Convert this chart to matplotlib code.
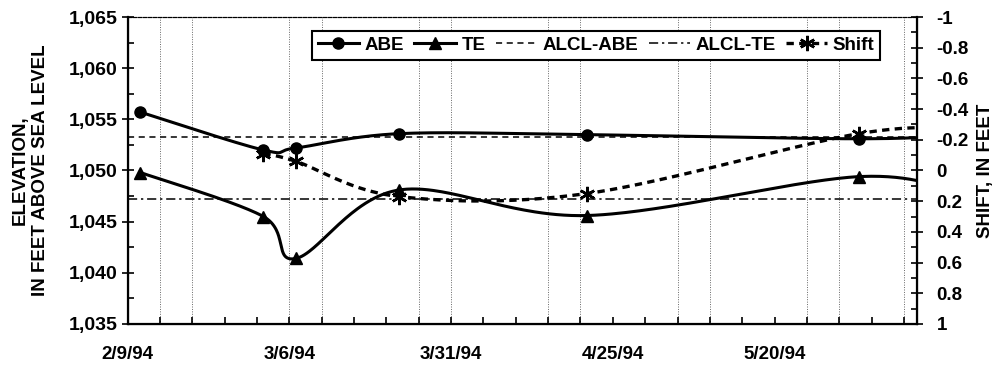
import numpy as np
import pandas as pd
import matplotlib
matplotlib.use('Agg')
import matplotlib.pyplot as plt
import matplotlib.dates as mdates
from matplotlib.lines import Line2D
from matplotlib.ticker import FuncFormatter, MultipleLocator

plt.rcParams['font.family'] = ['Liberation Sans', 'DejaVu Sans']
plt.rcParams['font.weight'] = 'bold'

# survey dates (the last one falls past the end of the axis)
dates = pd.to_datetime(['1994-02-11', '1994-03-02', '1994-03-07', '1994-03-23',
                        '1994-04-21', '1994-06-02', '1994-06-19'])
abe = [1055.7, 1052.0, 1052.2, 1053.6, 1053.5, 1053.1, 1053.5]
te = [1049.8, 1045.5, 1041.4, 1048.1, 1045.6, 1049.4, 1047.5]

# shift is only measured from the second survey on
shift_dates = dates[1:]
shift = [-0.11, -0.06, 0.17, 0.15, -0.24, -0.27]

alcl_abe = 1053.3
alcl_te = 1047.2

x_start = pd.Timestamp('1994-02-09')
x_end = pd.Timestamp('1994-06-11')
label_dates = pd.date_range('1994-02-09', periods=5, freq='25D')
grid_days = [5, 10, 25, 30, 45, 50, 65, 70, 85, 90, 105, 110, 120]


def smooth(x, y, n=60):
    # excel-style smoothed line: cubic bezier through every point
    p = np.column_stack([x, y]).astype(float)
    p = np.vstack([p[0], p, p[-1]])
    t = np.linspace(0, 1, n)[:, None]
    parts = []
    for i in range(len(p) - 3):
        a, d = p[i + 1], p[i + 2]
        b = a + (p[i + 2] - p[i]) / 6
        c = d - (p[i + 3] - p[i + 1]) / 6
        parts.append((1 - t) ** 3 * a + 3 * (1 - t) ** 2 * t * b
                     + 3 * (1 - t) * t ** 2 * c + t ** 3 * d)
    seg = np.vstack(parts)
    return seg[:, 0], seg[:, 1]


xd = mdates.date2num(dates)
xs = mdates.date2num(shift_dates)

fig = plt.figure(figsize=(9.94, 3.68), dpi=100)
ax = fig.add_axes([0.1283, 0.1196, 0.7942, 0.8342])
ax2 = ax.twinx()

for d in grid_days:
    ax.axvline(mdates.date2num(x_start + pd.Timedelta(days=d)), color='#666666',
               lw=0.7, ls=(0, (1, 1.5)), zorder=0)

ax.axhline(alcl_abe, color='black', lw=1.1, ls=(0, (4, 3)), zorder=1)
ax.axhline(alcl_te, color='black', lw=1.1, ls=(0, (6, 2.5, 1.5, 2.5)), zorder=1)

sx, sy = smooth(xd, abe)
ax.plot(sx, sy, color='black', lw=2.2, zorder=3)
ax.plot(xd, abe, 'o', color='black', ms=8, zorder=4)
sx, sy = smooth(xd, te)
ax.plot(sx, sy, color='black', lw=2.2, zorder=3)
ax.plot(xd, te, '^', color='black', ms=9, zorder=4)

sx, sy = smooth(xs, shift)
ax2.plot(sx, sy, color='black', lw=2.4, ls=(0, (2.2, 1.6)), zorder=3)
ax2.plot(xs, shift, ls='none', marker=(6, 2, 0), color='black', ms=11, mew=1.8, zorder=4)

ax.set_xlim(mdates.date2num(x_start), mdates.date2num(x_end))
ax.set_ylim(1035, 1065)
ax2.set_ylim(1, -1)

ax.set_xticks(mdates.date2num(label_dates))
ax.set_xticklabels([f'{d.month}/{d.day}/94' for d in label_dates])
ax.xaxis.set_minor_locator(MultipleLocator(5))
ax.yaxis.set_major_locator(MultipleLocator(5))
ax.yaxis.set_minor_locator(MultipleLocator(2.5))
ax.yaxis.set_major_formatter(FuncFormatter(lambda v, _: f'{v:,.0f}'))
ax2.yaxis.set_major_locator(MultipleLocator(0.2))
ax2.yaxis.set_minor_locator(MultipleLocator(0.1))
ax2.yaxis.set_major_formatter(FuncFormatter(lambda v, _: '0' if abs(v) < 1e-9 else '%g' % round(v, 1)))

ax.tick_params(axis='x', which='both', direction='in', length=5, width=1.2, labelsize=13.5, pad=16)
ax.tick_params(axis='y', which='major', direction='inout', length=8, width=1.2, labelsize=14, pad=3)
ax.tick_params(axis='y', which='minor', direction='in', length=4, width=1.2)
ax2.tick_params(axis='y', which='major', direction='inout', length=8, width=1.2, labelsize=13.5, pad=10)
ax2.tick_params(axis='y', which='minor', direction='in', length=4, width=1.2)

for sp in ('left', 'bottom'):
    ax.spines[sp].set_linewidth(1.6)
ax2.spines['right'].set_linewidth(1.6)
for a in (ax, ax2):
    a.spines['top'].set_linewidth(0.8)
    a.spines['top'].set_linestyle((0, (3, 1.5)))

ax.set_ylabel('ELEVATION,\nIN FEET ABOVE SEA LEVEL', fontsize=13.5, fontweight='bold',
              labelpad=14, linespacing=1.3)
ax2.set_ylabel('SHIFT, IN FEET', fontsize=13.5, fontweight='bold', labelpad=6)

handles = [
    Line2D([], [], color='black', lw=2.2, marker='o', ms=8),
    Line2D([], [], color='black', lw=2.2, marker='^', ms=9),
    Line2D([], [], color='black', lw=1.1, ls=(0, (4, 3))),
    Line2D([], [], color='black', lw=1.1, ls=(0, (6, 2.5, 1.5, 2.5))),
    Line2D([], [], color='black', lw=2.4, ls=(0, (2.2, 1.6)), marker=(6, 2, 0), ms=11, mew=1.8),
]
leg = fig.legend(handles, ['ABE', 'TE', 'ALCL-ABE', 'ALCL-TE', 'Shift'], ncol=5,
                 loc='upper left', bbox_to_anchor=(0.314, 0.915), frameon=True,
                 fancybox=False, edgecolor='black', framealpha=1, fontsize=13.5,
                 handlelength=2.2, handletextpad=0.3, columnspacing=0.55,
                 borderpad=0.3, borderaxespad=0)
leg.get_frame().set_linewidth(1.5)

fig.savefig('out.png', dpi=100)
